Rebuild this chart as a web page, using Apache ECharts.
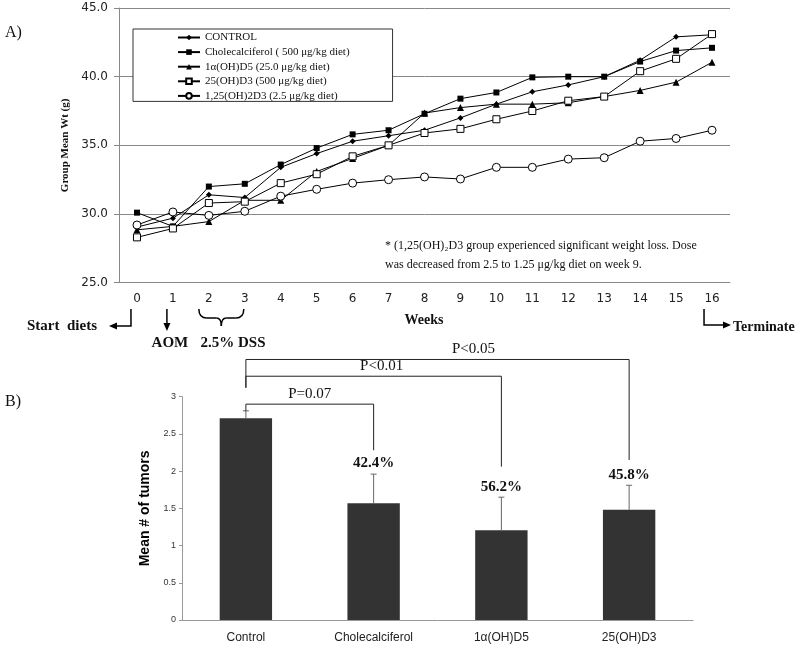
<!DOCTYPE html>
<html><head><meta charset="utf-8">
<script src="https://cdn.jsdelivr.net/npm/echarts@6/dist/echarts.min.js"></script>
<style>html,body{margin:0;padding:0;background:#fff}#c{width:800px;height:651px}</style>
</head><body><div id="c"></div>
<script>
// ---------- Panel A data ----------
const weeks = ['0','1','2','3','4','5','6','7','8','9','10','11','12','13','14','15','16'];
const seriesNames = ['CONTROL','Cholecalciferol ( 500 μg/kg diet)','1α(OH)D5 (25.0 μg/kg diet)','25(OH)D3 (500 μg/kg diet)','1,25(OH)2D3 (2.5 μg/kg diet)'];
const control   = [29.05, 29.7, 31.4, 31.2, 33.4, 34.4, 35.3, 35.7, 36.1, 37.0, 38.0, 38.9, 39.4, 40.0, 41.2, 42.9, 43.05];
const cholecal  = [30.1, 29.1, 32.0, 32.2, 33.6, 34.8, 35.8, 36.1, 37.3, 38.4, 38.85, 39.95, 40.0, 40.0, 41.1, 41.9, 42.1];
const oneAlphaD5= [28.85, 29.1, 29.45, 31.0, 31.0, 33.1, 34.05, 35.0, 37.35, 37.75, 38.0, 38.0, 38.1, 38.55, 39.0, 39.6, 41.05];
const ohD3      = [28.3, 28.95, 30.8, 30.9, 32.25, 32.9, 34.2, 35.0, 35.9, 36.2, 36.9, 37.5, 38.25, 38.55, 40.4, 41.3, 43.1];
const dihydD3   = [29.2, 30.15, 29.9, 30.2, 31.3, 31.8, 32.25, 32.5, 32.7, 32.55, 33.4, 33.4, 34.0, 34.1, 35.3, 35.5, 36.1];
const yMinA = 25, yMaxA = 45, yStepA = 5;

// ---------- Panel B data ----------
const barCategories = ['Control','Cholecalciferol','1α(OH)D5','25(OH)D3'];
const barMeans  = [2.71, 1.57, 1.205, 1.48];
const barErrors = [0.10, 0.39, 0.445, 0.33];
const pctLabels = ['', '42.4%', '56.2%', '45.8%'];
const pValues   = ['P=0.07', 'P<0.01', 'P<0.05'];
const bracketTargets   = [1, 2, 3];
const bracketHeights   = [2.90, 3.275, 3.50];
const bracketRightEnds = [2.28, 2.06, 2.15];
const bracketLeftEnds  = [2.81, 3.12, 3.12];
const yMinB = 0, yMaxB = 3, yStepB = 0.5;

// ---------- styles ----------
const serif = "'Liberation Serif','Times New Roman',serif";
const sans = "'DejaVu Sans',Verdana,sans-serif";
const arial = "'Liberation Sans',Arial,sans-serif";
const pLabelShift = [0, 8, 36];

const symbols = [
  {symbol:'diamond', size:6, fill:'#000'},
  {symbol:'rect', size:6, fill:'#000'},
  {symbol:'triangle', size:7, fill:'#000'},
  {symbol:'rect', size:7, fill:'#fff'},
  {symbol:'circle', size:8, fill:'#fff'}
];
const lineData = [control, cholecal, oneAlphaD5, ohD3, dihydD3];

const chart = echarts.init(document.getElementById('c'), null, {renderer:'canvas'});

const lineSeries = lineData.map((d, i) => ({
  name: seriesNames[i], type: 'line', xAxisIndex: 0, yAxisIndex: 0,
  data: d, symbol: symbols[i].symbol, symbolSize: symbols[i].size,
  lineStyle: {color:'#000', width:1},
  itemStyle: {color: symbols[i].fill, borderColor:'#000', borderWidth: symbols[i].fill === '#fff' ? 1 : 0},
  emphasis: {disabled:true}, animation:false, z: 3
}));

const option = {
  animation: false,
  backgroundColor: '#fff',
  grid: [
    {left:119, top:8, width:611, height:274.7},
    {left:182, top:396.7, width:511, height:223.3}
  ],
  legend: {
    data: seriesNames, orient:'vertical', left:133, top:29,
    backgroundColor:'#fff', borderColor:'#333', borderWidth:1,
    padding:[3, 43, 0, 44], itemGap:3.6, itemWidth:22, itemHeight:7,
    textStyle:{fontFamily:serif, fontSize:11, color:'#111', lineHeight:11},
    selectedMode:false, z: 10
  },
  xAxis: [
    {type:'category', gridIndex:0, data:weeks, boundaryGap:true,
     axisLine:{lineStyle:{color:'#888', width:1}},
     axisTick:{length:4, lineStyle:{color:'#888'}},
     axisLabel:{fontFamily:sans, fontSize:12, color:'#222', margin:10}},
    {type:'category', gridIndex:1, data:barCategories, boundaryGap:true,
     axisLine:{lineStyle:{color:'#999', width:1}},
     axisTick:{length:4, lineStyle:{color:'#999'}},
     axisLabel:{fontFamily:arial, fontSize:12, color:'#222', margin:12}}
  ],
  yAxis: [
    {type:'value', gridIndex:0, min:yMinA, max:yMaxA, interval:yStepA,
     name:'Group Mean Wt (g)', nameLocation:'middle', nameGap:41, nameRotate:90,
     nameTextStyle:{fontFamily:serif, fontSize:11, fontWeight:'bold', color:'#111'},
     axisLine:{show:true, lineStyle:{color:'#888'}},
     axisTick:{show:true, length:5, lineStyle:{color:'#888'}},
     splitLine:{show:true, lineStyle:{color:'#888', width:1}},
     axisLabel:{fontFamily:sans, fontSize:12, color:'#222', margin:11, formatter: v => v.toFixed(1)}},
    {type:'value', gridIndex:1, min:yMinB, max:yMaxB, interval:yStepB,
     name:'Mean # of tumors', nameLocation:'middle', nameGap:18, nameRotate:90,
     nameTextStyle:{fontFamily:arial, fontSize:14, fontWeight:'bold', color:'#000'},
     axisLine:{show:true, lineStyle:{color:'#999'}},
     axisTick:{show:true, length:3, lineStyle:{color:'#999'}},
     splitLine:{show:false},
     axisLabel:{fontFamily:arial, fontSize:9, color:'#333', margin:6}}
  ],
  series: lineSeries.concat([
    {type:'bar', xAxisIndex:1, yAxisIndex:1, data:barMeans, barWidth:'41%',
     itemStyle:{color:'#333'}, emphasis:{disabled:true}, silent:true},
    {type:'custom', xAxisIndex:1, yAxisIndex:1, silent:true, z:5,
     data: barMeans.map((m, i) => [i, m, barErrors[i]]),
     encode:{x:0, y:1},
     renderItem: function(params, api) {
       const i = api.value(0), m = api.value(1), e = api.value(2);
       const p0 = api.coord([i, m]), p1 = api.coord([i, m + e]);
       const children = [
         {type:'line', shape:{x1:p0[0], y1:p0[1], x2:p1[0], y2:p1[1]}, style:{stroke:'#666', lineWidth:1}},
         {type:'line', shape:{x1:p1[0]-3, y1:p1[1], x2:p1[0]+3, y2:p1[1]}, style:{stroke:'#666', lineWidth:1}}
       ];
       if (pctLabels[i]) {
         children.push({type:'text', style:{text:pctLabels[i], x:p1[0], y:p1[1]-3,
           textAlign:'center', textVerticalAlign:'bottom',
           font:'bold 15px ' + serif, fill:'#111'}});
       }
       return {type:'group', children};
     }},
    {type:'custom', xAxisIndex:1, yAxisIndex:1, silent:true, z:5, clip:false,
     data: bracketTargets.map((t, i) => [t, bracketHeights[i], bracketRightEnds[i], bracketLeftEnds[i], i]),
     encode:{x:0, y:1},
     renderItem: function(params, api) {
       const t = api.value(0), h = api.value(1), re = api.value(2), le = api.value(3), k = api.value(4);
       const a = api.coord([0, h]), b = api.coord([t, h]);
       const rb = api.coord([t, re]), lb = api.coord([0, le]);
       return {type:'group', children:[
         {type:'polyline', shape:{points:[[lb[0], lb[1]], [a[0], a[1]], [b[0], b[1]], [rb[0], rb[1]]]},
          style:{stroke:'#222', lineWidth:1, fill:null}},
         {type:'text', style:{text:pValues[k], x:(a[0]+b[0])/2 + pLabelShift[k], y:a[1]-3,
          textAlign:'center', textVerticalAlign:'bottom', font:'15px ' + serif, fill:'#111'}}
       ]};
     }}
  ])
};
chart.setOption(option);

// ---------- annotations anchored to axes ----------
const wx = i => chart.convertToPixel({xAxisIndex:0}, i);
const yTop = 309;
const x0 = wx(0) - 6, x1 = wx(1) - 6, x2 = wx(2) - 10, x3 = wx(3) - 1, x16 = wx(16) - 8;
const xm = (x2 + x3) / 2;
const bold15 = 'bold 15px ' + serif;
const stk = {stroke:'#000', lineWidth:1.5, fill:null};
const graphics = [
  {type:'text', x:5, y:33, style:{text:'A)', font:'16px ' + serif, fill:'#111', textVerticalAlign:'middle'}},
  {type:'text', x:5, y:402, style:{text:'B)', font:'16px ' + serif, fill:'#111', textVerticalAlign:'middle'}},
  {type:'text', x:385, y:246, style:{text:'* (1,25(OH)₂D3 group experienced significant weight loss. Dose', font:'12px ' + serif, fill:'#111', textVerticalAlign:'middle'}},
  {type:'text', x:385, y:265, style:{text:'was decreased from 2.5 to 1.25 μg/kg diet on week 9.', font:'12px ' + serif, fill:'#111', textVerticalAlign:'middle'}},
  {type:'text', x:424, y:320, style:{text:'Weeks', font:'bold 14px ' + serif, fill:'#111', textAlign:'center', textVerticalAlign:'middle'}},
  // start diets
  {type:'polyline', shape:{points:[[x0, yTop], [x0, 326], [116, 326]]}, style:stk},
  {type:'polygon', shape:{points:[[109, 326], [117, 322.5], [117, 329.5]]}, style:{fill:'#000'}},
  {type:'text', x:27, y:326, style:{text:'Start  diets', font:bold15, fill:'#111', textVerticalAlign:'middle'}},
  // AOM
  {type:'line', shape:{x1:x1, y1:yTop, x2:x1, y2:324}, style:{stroke:'#000', lineWidth:1.5}},
  {type:'polygon', shape:{points:[[x1, 331], [x1-3.5, 323], [x1+3.5, 323]]}, style:{fill:'#000'}},
  {type:'text', x:x1 + 3, y:343, style:{text:'AOM', font:bold15, fill:'#111', textAlign:'center', textVerticalAlign:'middle'}},
  // DSS brace
  {type:'bezierCurve', shape:{x1:x2, y1:yTop, x2:x2+8, y2:318, cpx1:x2, cpy1:318}, style:stk},
  {type:'line', shape:{x1:x2+8, y1:318, x2:xm-5, y2:318}, style:stk},
  {type:'bezierCurve', shape:{x1:xm-5, y1:318, x2:xm, y2:326, cpx1:xm, cpy1:318}, style:stk},
  {type:'bezierCurve', shape:{x1:xm, y1:326, x2:xm+5, y2:318, cpx1:xm, cpy1:318}, style:stk},
  {type:'line', shape:{x1:xm+5, y1:318, x2:x3-8, y2:318}, style:stk},
  {type:'bezierCurve', shape:{x1:x3-8, y1:318, x2:x3, y2:yTop, cpx1:x3, cpy1:318}, style:stk},
  {type:'text', x:233, y:343, style:{text:'2.5% DSS', font:bold15, fill:'#111', textAlign:'center', textVerticalAlign:'middle'}},
  // terminate
  {type:'polyline', shape:{points:[[x16, yTop], [x16, 325], [724, 325]]}, style:stk},
  {type:'polygon', shape:{points:[[731, 325], [723, 321.5], [723, 328.5]]}, style:{fill:'#000'}},
  {type:'text', x:733, y:327, style:{text:'Terminate', font:'bold 14px ' + serif, fill:'#111', textVerticalAlign:'middle'}}
];
chart.setOption({graphic: graphics});
</script></body></html>
